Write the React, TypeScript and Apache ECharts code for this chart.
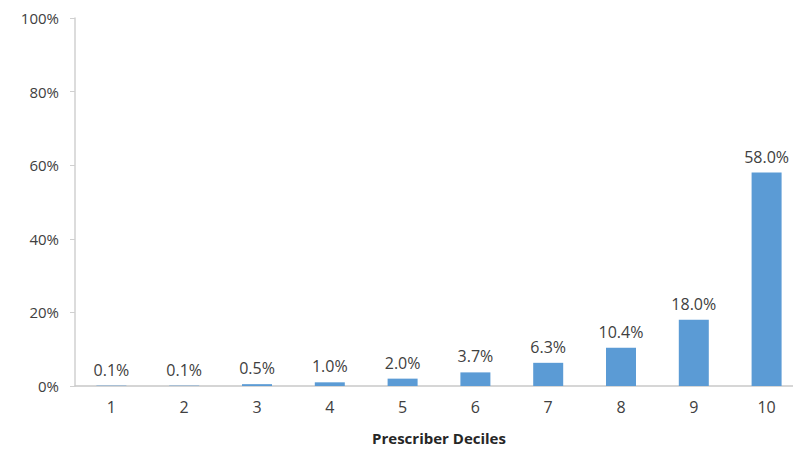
import React, { useEffect, useRef } from "react";
import * as echarts from "echarts";

const categories = ["1", "2", "3", "4", "5", "6", "7", "8", "9", "10"];
const shares = [0.1, 0.1, 0.5, 1.0, 2.0, 3.7, 6.3, 10.4, 18.0, 58.0];
const yTicks = [0, 20, 40, 60, 80, 100];

export default function App() {
  const ref = useRef<HTMLDivElement>(null);
  useEffect(() => {
    if (!ref.current) return;
    const chart = echarts.init(ref.current, undefined, { renderer: "svg" });
    const font = "'Open Sans', 'Liberation Sans', sans-serif";
    chart.setOption({
      animation: false,
      textStyle: { fontFamily: font },
      grid: { left: 75, right: 3, top: 18, bottom: 62, containLabel: false },
      xAxis: {
        type: "category",
        data: categories,
        name: "Prescriber Deciles",
        nameLocation: "middle",
        nameGap: 44,
        nameTextStyle: { fontWeight: "bold", fontSize: 15, color: "#262626", fontFamily: font },
        axisLine: { lineStyle: { color: "#c8c8c8", width: 1.5 } },
        axisTick: { show: false },
        axisLabel: { color: "#404040", fontSize: 16, margin: 13, fontFamily: font },
      },
      yAxis: {
        type: "value",
        min: yTicks[0],
        max: yTicks[yTicks.length - 1],
        interval: 20,
        axisLine: { show: true, lineStyle: { color: "#d0d0d0", width: 1.5 } },
        axisTick: { show: true, length: 5, lineStyle: { color: "#d0d0d0" } },
        splitLine: { show: false },
        axisLabel: {
          color: "#404040",
          fontSize: 15,
          margin: 16,
          fontFamily: font,
          formatter: (v: number) => `${v}%`,
        },
      },
      series: [
        {
          type: "bar",
          data: shares,
          barWidth: 30,
          itemStyle: { color: "#5B9BD5" },
          label: {
            show: true,
            position: "top",
            distance: 8,
            color: "#404040",
            fontSize: 16,
            fontFamily: font,
            formatter: (p: any) => `${p.value.toFixed(1)}%`,
          },
        },
      ],
    });
    return () => chart.dispose();
  }, []);
  return (
    <div style={{ position: "absolute", left: 0, top: 0, width: 793, height: 450, overflow: "hidden" }}>
      <div ref={ref} style={{ width: 806, height: 450 }} />
    </div>
  );
}
